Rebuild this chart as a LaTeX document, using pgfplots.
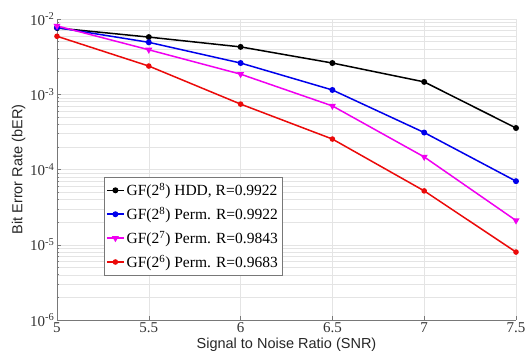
\documentclass[border=0pt]{standalone}
\usepackage{fontspec}
\setmainfont{Liberation Serif}
\newfontfamily\sansf{Liberation Sans}
\usepackage{pgfplots}
\pgfplotsset{compat=1.18}
\definecolor{gridc}{RGB}{228,228,228}
\definecolor{axc}{RGB}{120,120,120}
\definecolor{myblue}{RGB}{0,0,235}
\definecolor{mymag}{RGB}{240,0,240}
\definecolor{myred}{RGB}{235,10,10}
\begin{document}
\begin{tikzpicture}
\begin{axis}[
  scale only axis, width=459pt, height=301pt,
  ymode=log, xmin=5, xmax=7.5, ymin=1e-6, ymax=1e-2,
  axis x line*=bottom, axis y line*=left,
  axis line style={axc, line width=0.6pt},
  xtick={5,5.5,6,6.5,7,7.5},
  xticklabels={5,5.5,6,6.5,7,7.5},
  ytick={1e-6,1e-5,1e-4,1e-3,1e-2},
  yticklabels={10\textsuperscript{-6},10\textsuperscript{-5},10\textsuperscript{-4},10\textsuperscript{-3},10\textsuperscript{-2}},
  tick align=inside, major tick length=4pt, minor tick length=2pt,
  tick style={axc, line width=0.5pt},
  ticklabel style={font=\fontsize{15}{16}\selectfont, text=black!80},
  xticklabel style={yshift=1pt},
  yticklabel style={xshift=1pt},
  xmajorgrids, ymajorgrids, yminorgrids,
  major grid style={gridc, line width=0.5pt},
  minor grid style={gridc, line width=0.4pt},
  xlabel={\sansf Signal to Noise Ratio (SNR)},
  ylabel={\sansf Bit Error Rate (bER)},
  label style={font=\fontsize{14.5}{16}\selectfont, text=black!85},
  xlabel style={yshift=2pt},
  ylabel style={yshift=-2pt},
  legend style={at={(rel axis cs:0.102,0.475)}, anchor=north west,
    draw=axc, line width=0.6pt, fill=white, font=\fontsize{15.5}{17}\selectfont,
    row sep=6pt, inner xsep=2pt, inner ysep=4pt},
  legend cell align=left,
  every axis plot/.append style={line width=1.5pt, mark options={solid}},
]
\addplot[black, mark=*, mark size=2.2pt] coordinates {(5,7.6e-3) (5.5,5.75e-3) (6,4.26e-3) (6.5,2.6e-3) (7,1.46e-3) (7.5,3.56e-4)};
\addlegendentry{GF(2\textsuperscript{8}) HDD, R=0.9922}
\addplot[myblue, mark=*, mark size=2.2pt] coordinates {(5,7.7e-3) (5.5,4.9e-3) (6,2.6e-3) (6.5,1.14e-3) (7,3.1e-4) (7.5,7e-5)};
\addlegendentry{GF(2\textsuperscript{8}) Perm. R=0.9922}
\addplot[mymag, mark=triangle*, mark size=2.6pt, mark options={rotate=180}] coordinates {(5,8.1e-3) (5.5,3.9e-3) (6,1.85e-3) (6.5,7e-4) (7,1.47e-4) (7.5,2.1e-5)};
\addlegendentry{GF(2\textsuperscript{7}) Perm. R=0.9843}
\addplot[myred, mark=*, mark size=2pt] coordinates {(5,5.9e-3) (5.5,2.37e-3) (6,7.4e-4) (6.5,2.54e-4) (7,5.2e-5) (7.5,8e-6)};
\addlegendentry{GF(2\textsuperscript{6}) Perm. R=0.9683}
\end{axis}
\pgfresetboundingbox
\path ([shift={(-57pt,-38pt)}]current axis.south west) rectangle ([shift={(15pt,19pt)}]current axis.north east);
\end{tikzpicture}
\end{document}
